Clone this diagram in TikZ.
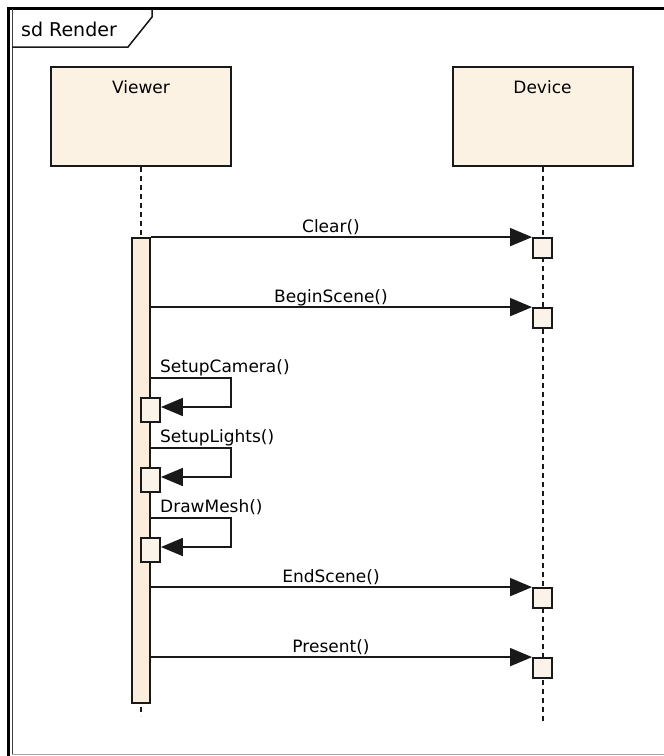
\documentclass[tikz,border=0pt]{standalone}
\usepackage{fontspec}
\setmainfont{DejaVu Sans}
\usetikzlibrary{arrows.meta,calc}
\definecolor{lifefill}{RGB}{252,242,228}
\definecolor{barfill}{RGB}{250,237,220}
\definecolor{actfill}{RGB}{249,243,233}
\begin{document}
\begin{tikzpicture}[x=1pt,y=-1pt,
  lbl/.style={font=\fontsize{17}{20}\selectfont, inner sep=0pt, text=black},
  lifebox/.style={draw=black!90, line width=2pt, fill=lifefill, minimum width=180pt, minimum height=99pt, inner sep=0pt},
  barbox/.style={draw=black!90, line width=2pt, fill=barfill, minimum width=18pt, inner sep=0pt},
  actbox/.style={draw=black!90, line width=1.8pt, fill=actfill, minimum width=19pt, inner sep=0pt},
  lifeline/.style={draw=black!90, line width=2pt, dash pattern=on 5pt off 4pt},
  msg/.style={draw=black!90, line width=1.7pt, -{Triangle[length=22pt,width=18pt]}},
  selfmsg/.style={msg, line join=miter}
]
\useasboundingbox (0,0) rectangle (664,756);
\fill[white] (0,0) rectangle (664,756);

% diagram frame with its name tab
\draw[line width=3pt, black] (8.5,756) -- (8.5,8.5) -- (664,8.5);
\draw[line width=1pt, black!75] (12,9) -- (12,754);
\draw[line width=1pt, black!35] (12,754) -- (664,754);
\draw[line width=1.5pt, black!90, line join=miter] (152,9) -- (152,17) -- (128,47) -- (12,47);
\node[lbl, font=\fontsize{19}{22}\selectfont, anchor=base west] (title) at (21,36) {sd Render};

% lifeline heads
\node[lifebox] (viewer) at (141,116.5) {};
\node[lbl, anchor=base] (viewerlbl) at (141,93) {Viewer};
\node[lifebox] (device) at (542.5,116.5) {};
\node[lbl, anchor=base] (devicelbl) at (542.5,93) {Device};

% lifelines
\coordinate (vend) at (141,716);
\coordinate (dend) at (542.5,722);
\draw[lifeline] (viewer.south) -- (vend);
\draw[lifeline] (device.south) -- (dend);

% Viewer activation
\node[barbox, minimum height=465pt] (bar) at (141,470.5) {};

% Device activations
\node[actbox, minimum height=20pt] (dclear) at (542.5,248) {};
\node[actbox, minimum height=20pt] (dbegin) at (542.5,318) {};
\node[actbox, minimum height=20pt] (dend1) at (542.5,598) {};
\node[actbox, minimum height=20pt] (dpresent) at (542.5,668) {};

% nested Viewer activations
\node[actbox, minimum height=24pt] (scam) at (150.5,410) {};
\node[actbox, minimum height=24pt] (slight) at (150.5,480) {};
\node[actbox, minimum height=24pt] (smesh) at (150.5,550) {};

% calls to Device
\draw[msg] (bar.east |- dclear.north west) -- (dclear.north west);
\node[lbl, anchor=base] (lclear) at (331,232) {Clear()};
\draw[msg] (bar.east |- dbegin.north west) -- (dbegin.north west);
\node[lbl, anchor=base] (lbegin) at (331,302) {BeginScene()};
\draw[msg] (bar.east |- dend1.north west) -- (dend1.north west);
\node[lbl, anchor=base] (lendscene) at (331,582) {EndScene()};
\draw[msg] (bar.east |- dpresent.north west) -- (dpresent.north west);
\node[lbl, anchor=base] (lpresent) at (331,652) {Present()};

% self calls
\coordinate (cam) at (231,378);
\draw[selfmsg] (bar.east |- cam) -- (cam) |- ($(scam.east)+(0,-3)$);
\node[lbl, anchor=base west] (lcam) at (160,372) {SetupCamera()};
\coordinate (light) at (231,448);
\draw[selfmsg] (bar.east |- light) -- (light) |- ($(slight.east)+(0,-3)$);
\node[lbl, anchor=base west] (llight) at (160,442) {SetupLights()};
\coordinate (mesh) at (231,518);
\draw[selfmsg] (bar.east |- mesh) -- (mesh) |- ($(smesh.east)+(0,-3)$);
\node[lbl, anchor=base west] (lmesh) at (160,512) {DrawMesh()};
\end{tikzpicture}
\end{document}
